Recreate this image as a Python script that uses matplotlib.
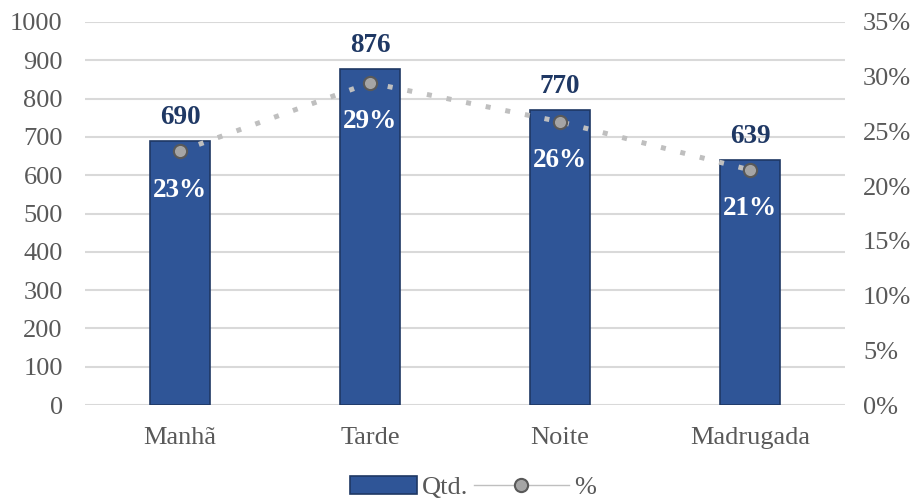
import matplotlib
matplotlib.use("Agg")
import matplotlib.pyplot as plt
from matplotlib.lines import Line2D
from matplotlib.patches import Patch, Rectangle
from matplotlib.legend_handler import HandlerPatch

periods = ["Manhã", "Tarde", "Noite", "Madrugada"]
counts = [690, 876, 770, 639]
left_ticks = [0, 100, 200, 300, 400, 500, 600, 700, 800, 900, 1000]
right_ticks = [0, 5, 10, 15, 20, 25, 30, 35]

total = sum(counts)
shares = [c / total * 100 for c in counts]

plt.rcParams["font.family"] = ["Liberation Serif", "DejaVu Serif"]

BAR_FACE = "#2F5597"
BAR_EDGE = "#1F3864"
TICK_COLOR = "#595959"

fig = plt.figure(figsize=(9.18, 5.0), dpi=100)
ax = fig.add_axes([0.0926, 0.19, 0.828, 0.766])
ax2 = ax.twinx()

x = list(range(len(periods)))
ax.bar(x, counts, width=0.316, color=BAR_FACE, edgecolor=BAR_EDGE,
       linewidth=1.2, zorder=3)
ax.set_xlim(-0.5, len(periods) - 0.5)
ax.set_ylim(0, 1000)
ax.set_yticks(left_ticks)
ax.set_xticks(x)
ax.set_xticklabels(periods)
ax.grid(axis="y", color="#D9D9D9", linewidth=1.5, zorder=0)
ax.set_axisbelow(True)

ax2.plot(x, shares, linestyle=(0, (1, 3)), color="#BFBFBF", linewidth=3.6,
         dash_capstyle="butt", zorder=4)
ax2.plot(x, shares, linestyle="none", marker="o", markersize=9.5,
         markerfacecolor="#A5A5A5", markeredgecolor="#595959",
         markeredgewidth=1.5, zorder=5)
ax2.set_ylim(0, 35)
ax2.set_yticks(right_ticks)
ax2.set_yticklabels([f"{t}%" for t in right_ticks])

for a in (ax, ax2):
    for s in a.spines.values():
        s.set_visible(False)
    a.tick_params(length=0, labelsize=19, labelcolor=TICK_COLOR)
ax.tick_params(axis="y", pad=16)
ax2.tick_params(axis="y", pad=13)
ax.tick_params(axis="x", pad=16)

for xi, c in zip(x, counts):
    ax.annotate(f"{c}", (xi, c), xytext=(0, 17), textcoords="offset points",
                ha="center", va="center", fontsize=19.5, fontweight="bold",
                color=BAR_EDGE, zorder=6)
for xi, p in zip(x, shares):
    ax2.annotate(f"{round(p)}%", (xi, p), xytext=(0, -28),
                 textcoords="offset points", ha="center", va="center",
                 fontsize=19.5, fontweight="bold", color="white", zorder=6)


def narrow_patch(legend, orig_handle, xdescent, ydescent, width, height,
                 fontsize):
    w = width * 0.7
    return Rectangle((-xdescent + width - w, -ydescent), w, height)


handles = [
    Patch(facecolor=BAR_FACE, edgecolor=BAR_EDGE, linewidth=1.2),
    Line2D([0], [0], color="#BFBFBF", linewidth=1.0, marker="o",
           markersize=9.5, markerfacecolor="#A5A5A5",
           markeredgecolor="#595959", markeredgewidth=1.5),
]
fig.legend(handles, ["Qtd.", "%"], loc="lower center",
           bbox_to_anchor=(0.5, -0.046), ncol=2, frameon=False,
           fontsize=19, handlelength=3.6, columnspacing=0.2,
           handletextpad=0.2, labelcolor=TICK_COLOR,
           handler_map={Patch: HandlerPatch(patch_func=narrow_patch)})

fig.savefig("out.png", dpi=100)
